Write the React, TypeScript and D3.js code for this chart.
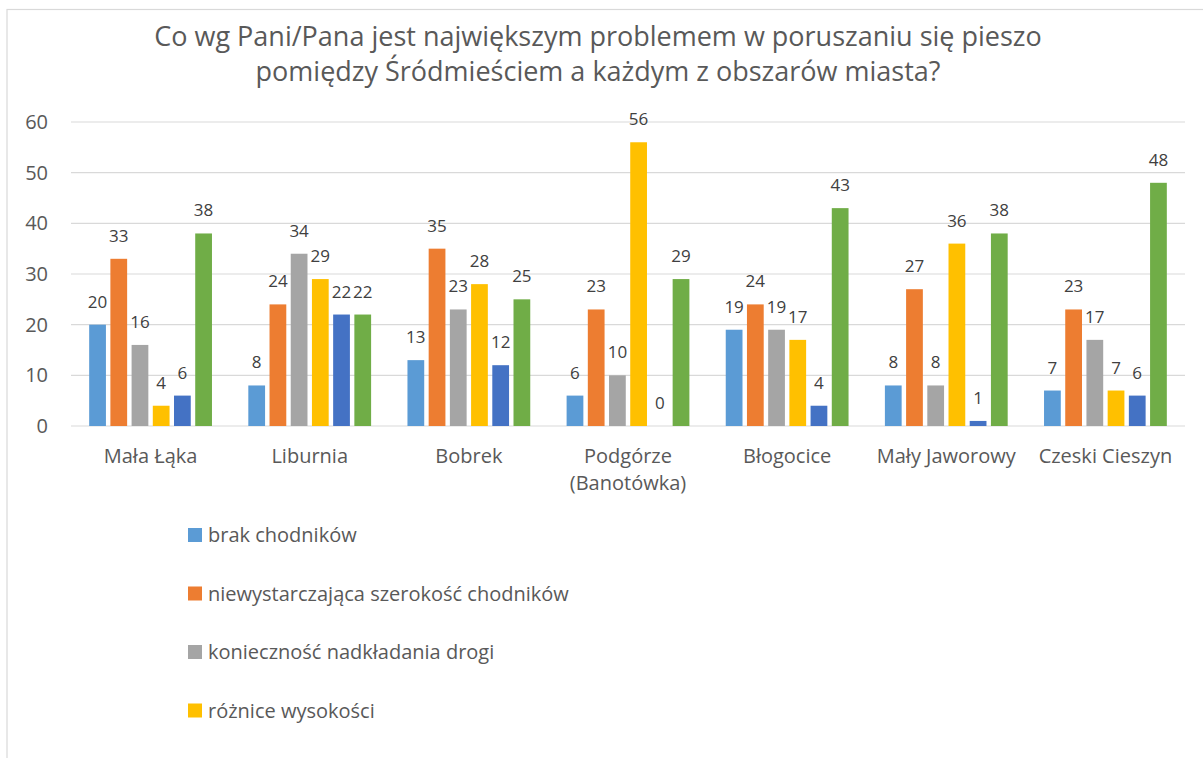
import React, { useEffect } from "react";
import * as d3 from "d3";

const categories = [
  ["Mała Łąka"],
  ["Liburnia"],
  ["Bobrek"],
  ["Podgórze", "(Banotówka)"],
  ["Błogocice"],
  ["Mały Jaworowy"],
  ["Czeski Cieszyn"],
];

const seriesNames = [
  "brak chodników",
  "niewystarczająca szerokość chodników",
  "konieczność nadkładania drogi",
  "różnice wysokości",
  "brak przejść dla pieszych",
  "inne",
];

const seriesColors = ["#5B9BD5", "#ED7D31", "#A5A5A5", "#FFC000", "#4472C4", "#70AD47"];

const brakChodnikow = [20, 8, 13, 6, 19, 8, 7];
const szerokosc = [33, 24, 35, 23, 24, 27, 23];
const nadkladanie = [16, 34, 23, 10, 19, 8, 17];
const roznice = [4, 29, 28, 56, 17, 36, 7];
const przejscia = [6, 22, 12, 0, 4, 1, 6];
const inne = [38, 22, 25, 29, 43, 38, 48];

const seriesValues = [brakChodnikow, szerokosc, nadkladanie, roznice, przejscia, inne];

const yTicks = [0, 10, 20, 30, 40, 50, 60];

const titleLines = [
  "Co wg Pani/Pana jest największym problemem w poruszaniu się pieszo",
  "pomiędzy Śródmieściem a każdym z obszarów miasta?",
];

const W = 1203;
const H = 758;
const FONT = "'Open Sans', 'Noto Sans', sans-serif";

export default function App() {
  useEffect(() => {
    document.body.style.margin = "0";
  }, []);

  const plotLeft = 71;
  const plotRight = 1185;
  const y = d3.scaleLinear().domain([0, 60]).range([426, 122]);
  const x0 = d3
    .scaleBand<number>()
    .domain(categories.map((_, i) => i))
    .range([plotLeft, plotRight])
    .padding(0);
  const x1 = d3
    .scaleBand<number>()
    .domain(seriesNames.map((_, i) => i))
    .range([0, x0.bandwidth()])
    .paddingInner(0.21)
    .paddingOuter(0.857);

  const legendTop = 528;
  const legendStep = 58.5;

  return (
    <svg width={W} height={H} style={{ display: "block", overflow: "hidden" }} fontFamily={FONT}>
      <rect x={0} y={0} width={W} height={H} fill="#fff" />
      <rect x={7} y={9.5} width={W + 20} height={H + 20} fill="none" stroke="#D9D9D9" strokeWidth={1.2} />
      {titleLines.map((t, i) => (
        <text key={i} x={598} y={46 + i * 35} textAnchor="middle" fontSize={27} fill="#595959">
          {t}
        </text>
      ))}
      {yTicks.map((t) => (
        <g key={t}>
          <line x1={plotLeft} x2={plotRight} y1={y(t)} y2={y(t)} stroke="#D9D9D9" strokeWidth={1.2} />
          <text x={48} y={y(t) + 7} textAnchor="end" fontSize={20} fill="#595959">
            {t}
          </text>
        </g>
      ))}
      {categories.map((cat, ci) => (
        <g key={ci} transform={`translate(${x0(ci)},0)`}>
          {seriesValues.map((vals, si) => {
            const v = vals[ci];
            const bx = x1(si)!;
            const bw = x1.bandwidth();
            return (
              <g key={si}>
                <rect x={bx} y={y(v)} width={bw} height={y(0) - y(v)} fill={seriesColors[si]} />
                <text x={bx + bw / 2} y={y(v) - 17} textAnchor="middle" fontSize={17} fill="#404040">
                  {v}
                </text>
              </g>
            );
          })}
          {cat.map((line, li) => (
            <text
              key={li}
              x={x0.bandwidth() / 2}
              y={463 + li * 27}
              textAnchor="middle"
              fontSize={20}
              fill="#595959"
            >
              {line}
            </text>
          ))}
        </g>
      ))}
      {seriesNames.map((name, si) => {
        const ly = legendTop + si * legendStep;
        if (ly + 20 > H) return null;
        return (
          <g key={si} transform={`translate(188,${ly})`}>
            <rect x={0} y={0} width={14} height={14} fill={seriesColors[si]} />
            <text x={20} y={14} fontSize={20} fill="#595959">
              {name}
            </text>
          </g>
        );
      })}
    </svg>
  );
}
